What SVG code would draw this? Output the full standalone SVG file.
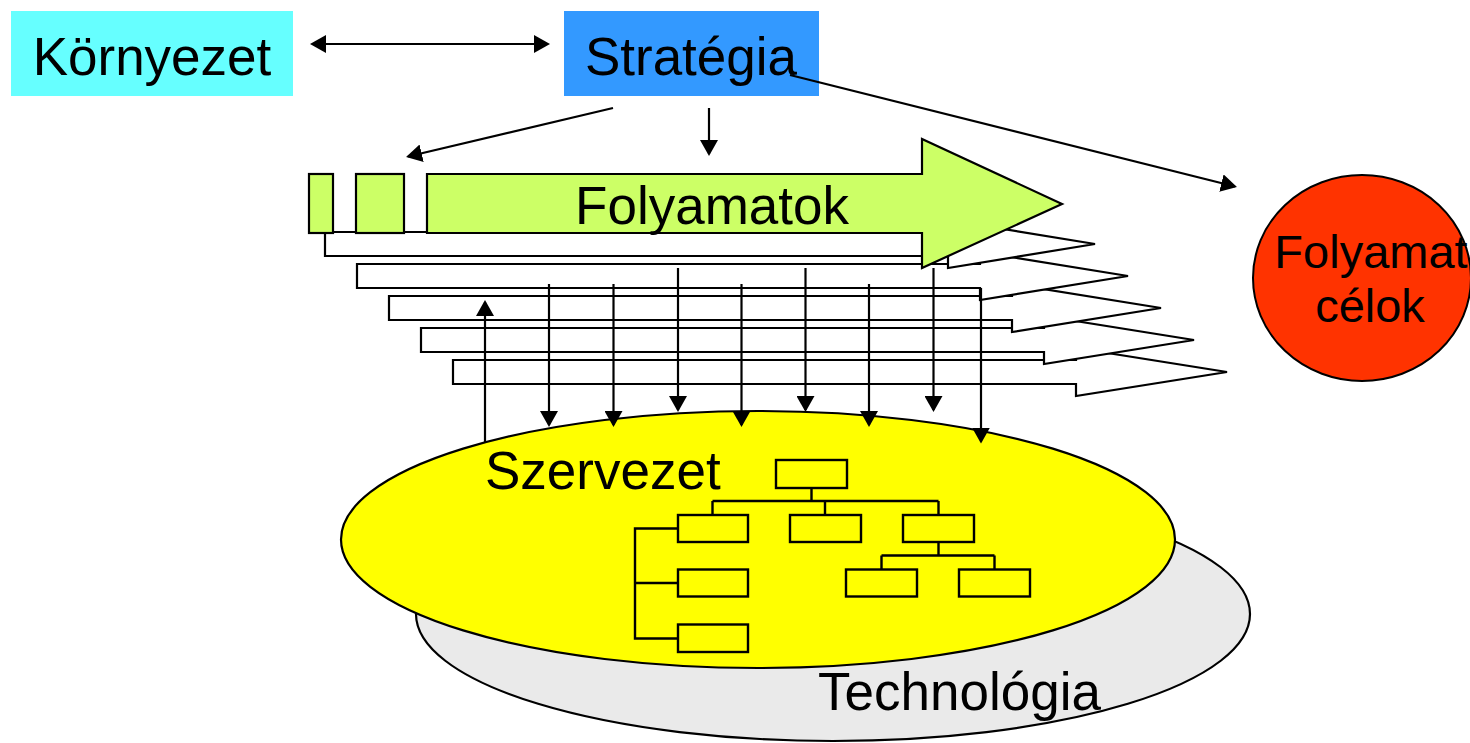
<svg xmlns="http://www.w3.org/2000/svg" width="1470" height="743" viewBox="0 0 1470 743">
<style>
.lbl{font-family:"Liberation Sans",Arial,sans-serif;fill:#000}
.big{font-size:53px}
.ol{stroke:#000;stroke-width:2.4;fill:none}
.wa{fill:#fff;stroke:#000;stroke-width:2.2;stroke-linejoin:miter}
.box{fill:#FFFF00;stroke:#000;stroke-width:2.4}
.con{stroke:#000;stroke-width:2.2;fill:none}
</style>
<defs>
<marker id="ah" markerUnits="userSpaceOnUse" viewBox="0 0 16 18" markerWidth="16" markerHeight="18" refX="14" refY="9" orient="auto-start-reverse">
<path d="M0,0 L16,9 L0,18 Z" fill="#000"/>
</marker>
</defs>
<rect width="1470" height="743" fill="#fff"/>

<g id="technologia">
<ellipse cx="833" cy="614" rx="417" ry="127" fill="#EAEAEA" stroke="#000" stroke-width="2.2"/>
<text class="lbl big" x="818" y="710" font-size="52">Technológia</text>
</g>

<g id="szervezet">
<ellipse cx="758" cy="539.5" rx="417" ry="128.5" fill="#FFFF00" stroke="#000" stroke-width="2.2"/>
<text class="lbl big" x="485" y="489">Szervezet</text>
<g id="orgchart">
<rect class="box" x="776" y="460" width="71" height="28"/>
<path class="ol" d="M811.5,488 V501 M712.5,501 H938.5 M712.5,501 V515 M825,501 V515 M938.5,501 V515"/>
<rect class="box" x="678" y="515" width="70" height="27"/>
<rect class="box" x="790" y="515" width="71" height="27"/>
<rect class="box" x="903" y="515" width="71" height="27"/>
<path class="ol" d="M678,528.5 H635 V638.5 H678 M635,583 H678"/>
<rect class="box" x="678" y="569.5" width="70" height="27"/>
<rect class="box" x="678" y="624.5" width="70" height="27.5"/>
<path class="ol" d="M938.5,542 V555.5 M881.5,555.5 H994.5 M881.5,555.5 V569.5 M994.5,555.5 V569.5"/>
<rect class="box" x="846" y="569.5" width="71" height="27"/>
<rect class="box" x="959" y="569.5" width="71" height="27"/>
</g>
</g>

<g id="folyamatok">
<path class="wa" d="M453,360 H1076 V348 L1227,372 L1076,396 V384 H453 Z"/>
<path class="wa" d="M421,328 H1044 V316 L1194,340 L1044,364 V352 H421 Z"/>
<path class="wa" d="M389,296 H1012 V284 L1161,308 L1012,332 V320 H389 Z"/>
<path class="wa" d="M357,264 H980 V252 L1128,276 L980,300 V288 H357 Z"/>
<path class="wa" d="M325,232 H948 V220 L1095,244 L948,268 V256 H325 Z"/>
<rect x="309" y="174" width="24" height="59" fill="#CCFF66" stroke="#000" stroke-width="2.2"/>
<rect x="356" y="174" width="48" height="59" fill="#CCFF66" stroke="#000" stroke-width="2.2"/>
<path d="M427,174 H922 V139 L1062,204 L922,268 V233 H427 Z" fill="#CCFF66" stroke="#000" stroke-width="2.2"/>
<text class="lbl big" x="712" y="224" text-anchor="middle">Folyamatok</text>
</g>

<g id="kornyezet">
<rect x="11" y="11" width="282" height="85" fill="#66FFFF"/>
<text class="lbl big" x="152" y="75" text-anchor="middle">Környezet</text>
</g>

<g id="strategia">
<rect x="564" y="11" width="255" height="85" fill="#3399FF"/>
<text class="lbl big" x="691" y="75" text-anchor="middle">Stratégia</text>
</g>

<g id="folyamatcelok">
<ellipse cx="1362" cy="278" rx="109" ry="103" fill="#FF3300" stroke="#000" stroke-width="2"/>
<text class="lbl" font-size="47" x="1371" y="268" text-anchor="middle">Folyamat</text>
<text class="lbl" font-size="47" x="1370" y="322" text-anchor="middle">célok</text>
</g>

<g id="connectors">
<line class="con" x1="312" y1="44" x2="548" y2="44" marker-start="url(#ah)" marker-end="url(#ah)"/>
<line class="con" x1="613" y1="108" x2="408" y2="156.5" marker-end="url(#ah)"/>
<line class="con" x1="709" y1="108" x2="709" y2="154" marker-end="url(#ah)"/>
<line class="con" x1="790" y1="75" x2="1235" y2="186.5" marker-end="url(#ah)"/>
<line class="con" x1="485" y1="442" x2="485" y2="302" marker-end="url(#ah)"/>
<line class="con" x1="549" y1="284" x2="549" y2="425" marker-end="url(#ah)"/>
<line class="con" x1="613.5" y1="284" x2="613.5" y2="425" marker-end="url(#ah)"/>
<line class="con" x1="678" y1="268" x2="678" y2="410" marker-end="url(#ah)"/>
<line class="con" x1="741.5" y1="284" x2="741.5" y2="425" marker-end="url(#ah)"/>
<line class="con" x1="805.5" y1="268" x2="805.5" y2="410" marker-end="url(#ah)"/>
<line class="con" x1="869" y1="284" x2="869" y2="425" marker-end="url(#ah)"/>
<line class="con" x1="933.5" y1="268" x2="933.5" y2="410" marker-end="url(#ah)"/>
<line class="con" x1="981" y1="288" x2="981" y2="441.5" marker-end="url(#ah)"/>
</g>
</svg>
